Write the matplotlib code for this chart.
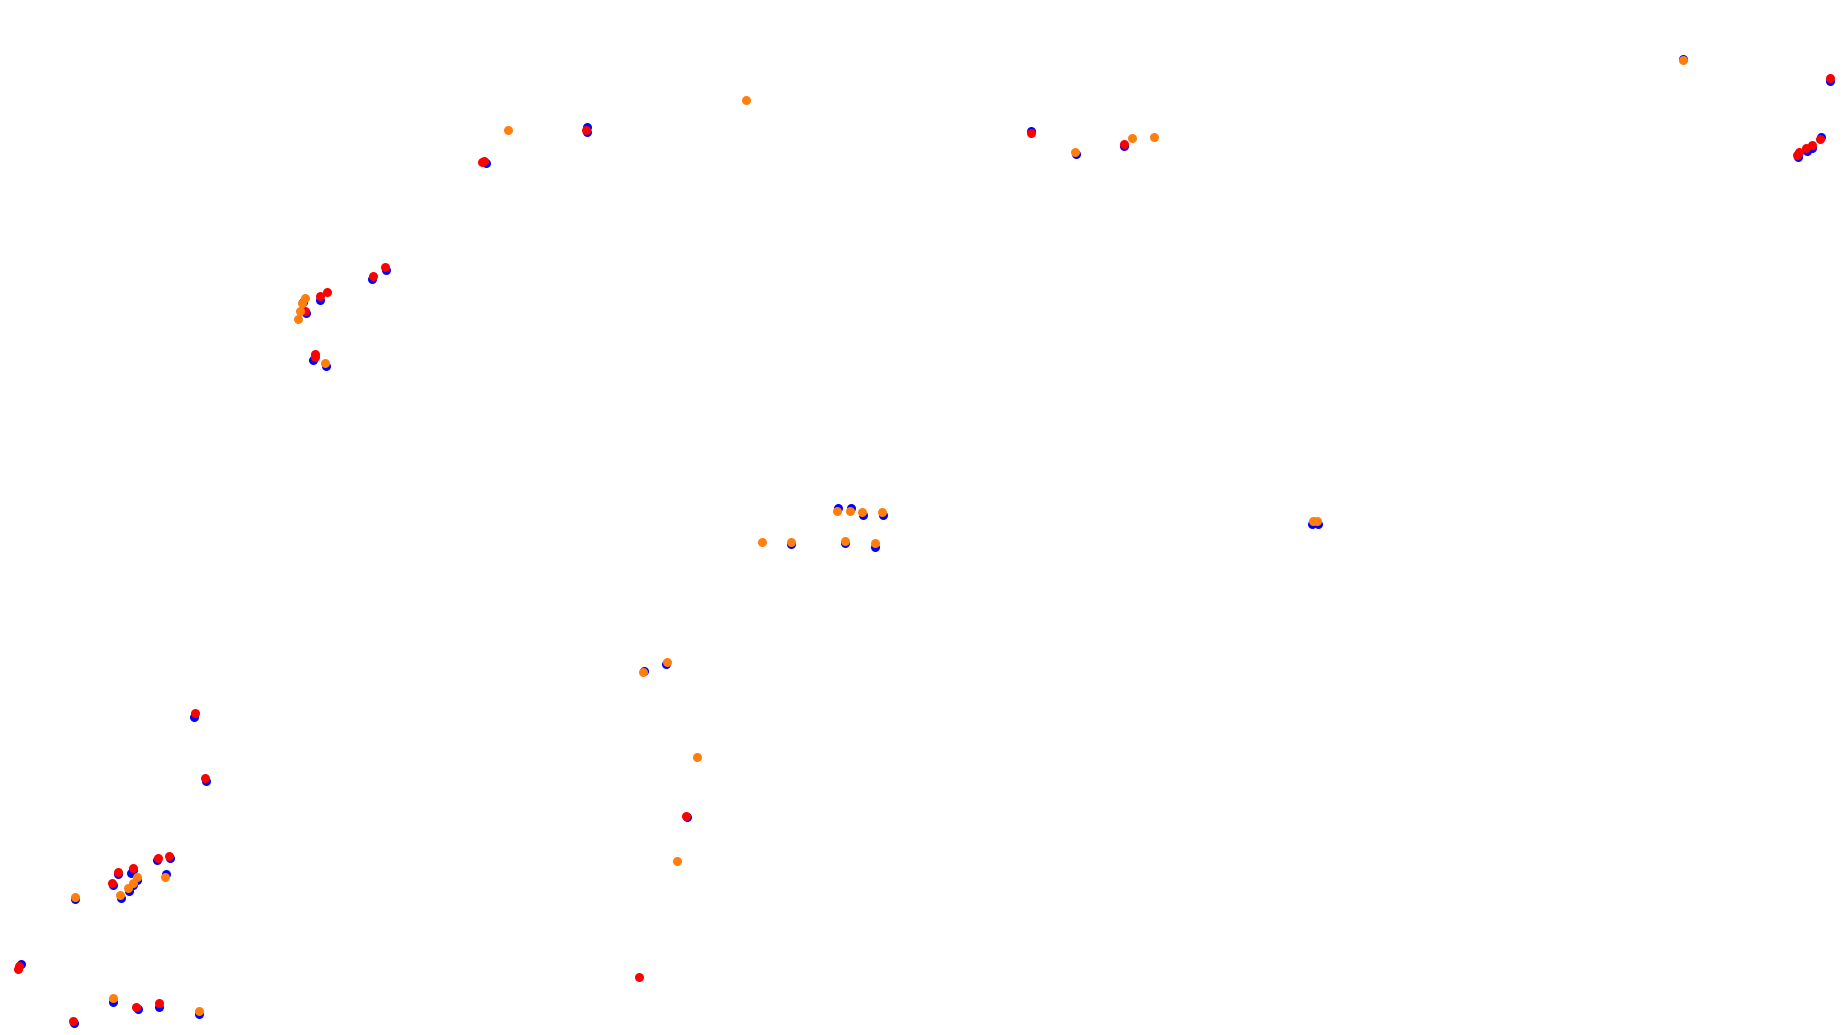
import matplotlib
matplotlib.use("Agg")
import matplotlib.pyplot as plt

# Blue series (drawn underneath)
blue_x = [193.7, 206, 156.7, 170, 165.7, 117.7, 131, 133.3, 112.7, 137.3, 133.3, 129, 121, 75,
          20.7, 112.7, 137.7, 159, 199, 74,
          385.7, 372, 319.7, 303.3, 306, 313.3, 325.7,
          586.7, 586.7, 486, 1030.7, 1076, 1124,
          1683.3, 1829.7, 1821, 1811.7, 1806.7, 1797.7,
          837.7, 851, 862.7, 882.7, 790.7, 844.7, 874.7,
          665.7, 644.3, 687.3, 1312, 1318]
blue_y = [716.7, 780.7, 860, 857.7, 874, 874, 873.3, 870, 885.3, 880, 885, 890.7, 898.3, 899.3,
          964.3, 1002.3, 1009, 1006.7, 1014, 1022.7,
          270, 279, 300, 301.7, 313.3, 360, 366,
          126.5, 132, 163.3, 131, 154, 146,
          59.3, 80.7, 137.3, 148.3, 151, 157.3,
          508.3, 508.3, 514.7, 514.7, 544.3, 543.3, 546.7,
          664, 670.7, 816.7, 524, 524]

# Red series
red_x = [195, 205, 158, 169.3, 117.7, 132.7, 112.3,
         18.3, 19.3, 136, 159, 72.7,
         385.3, 372.7, 326.7, 319.7, 304.7, 315.3, 314.7,
         586, 482, 484,
         1030.7, 1124,
         1829.7, 1820, 1811.7, 1805.7, 1799.3, 1797,
         686, 639]
red_y = [712.7, 778, 857.7, 855.7, 871.7, 867.7, 882.7,
         969.3, 966, 1006.7, 1003.3, 1020.7,
         266.7, 275.7, 292.3, 295.7, 311, 354, 357.3,
         129.7, 162.3, 160.7,
         133.3, 144,
         77.7, 138.7, 145, 148.3, 152.3, 155,
         815.7, 976.7]

# Orange series
orange_x = [164.7, 136.7, 132.7, 128.3, 120, 75, 112.7, 199,
            304.7, 302.3, 300, 298, 324.7,
            508, 745.7, 1075, 1132, 1154, 1682.7,
            836.7, 850, 862, 881.7, 761.7, 790.7, 844.7, 874.7,
            667, 642.7, 696.7, 677, 1312.5, 1317]
orange_y = [876.7, 877.3, 882.7, 888, 894.7, 896.7, 998.3, 1010.7,
            298.3, 303.3, 311, 319, 362.7,
            130, 99.7, 151.7, 138, 136.7, 60,
            510.7, 510.7, 512, 512, 541.7, 541.7, 540.7, 542.7,
            661.7, 672, 757, 860.7, 520.7, 521]

W, H = 1847, 1035
fig = plt.figure(figsize=(W / 100, H / 100), dpi=100)
ax = fig.add_axes([0, 0, 1, 1])
ms = 42
ax.scatter(blue_x, blue_y, s=ms, color="#0000ff", linewidths=0)
ax.scatter(red_x, red_y, s=ms, color="#ff0000", linewidths=0)
ax.scatter(orange_x, orange_y, s=ms, color="#ff7f0e", linewidths=0)
ax.set_xlim(0, W)
ax.set_ylim(H, 0)
ax.axis("off")
fig.savefig("out.png", dpi=100, facecolor="white")
